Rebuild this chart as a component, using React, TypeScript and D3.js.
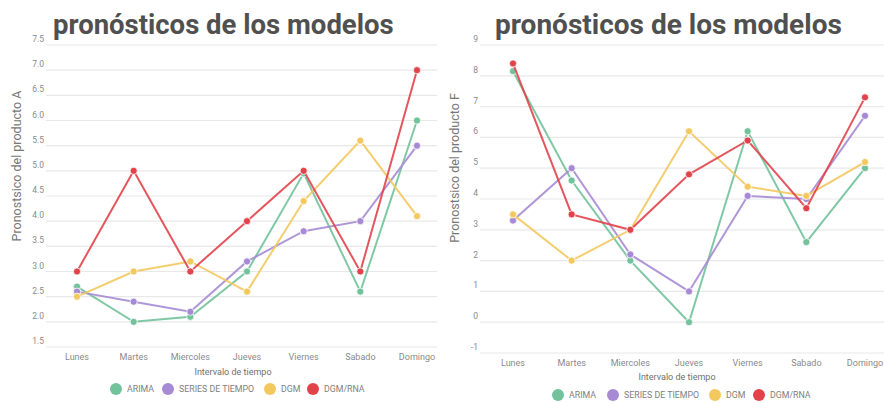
import React from "react";
import * as d3 from "d3";

const days = ["Lunes", "Martes", "Miercoles", "Jueves", "Viernes", "Sabado", "Domingo"];
const seriesNames = ["ARIMA", "SERIES DE TIEMPO", "DGM", "DGM/RNA"];
const colors = ["#72c29b", "#a68bd4", "#f3c85e", "#e2434b"];

// Producto A
const arimaA = [2.7, 2.0, 2.1, 3.0, 4.95, 2.6, 6.0];
const seriesA = [2.6, 2.4, 2.2, 3.2, 3.8, 4.0, 5.5];
const dgmA = [2.5, 3.0, 3.2, 2.6, 4.4, 5.6, 4.1];
const rnaA = [3.0, 5.0, 3.0, 4.0, 5.0, 3.0, 7.0];
const ticksA = [1.5, 2.0, 2.5, 3.0, 3.5, 4.0, 4.5, 5.0, 5.5, 6.0, 6.5, 7.0, 7.5];

// Producto F
const arimaF = [8.15, 4.6, 2.0, 0.0, 6.2, 2.6, 5.0];
const seriesF = [3.3, 5.0, 2.2, 1.0, 4.1, 4.0, 6.7];
const dgmF = [3.5, 2.0, 3.0, 6.2, 4.4, 4.1, 5.2];
const rnaF = [8.4, 3.5, 3.0, 4.8, 5.9, 3.7, 7.3];
const ticksF = [-1, 0, 1, 2, 3, 4, 5, 6, 7, 8, 9];

type ChartProps = {
  data: number[][];
  ticks: number[];
  fmt: (v: number) => string;
  yTitle: string;
  gridX: [number, number];
  pointX: [number, number];
  yRange: [number, number];
  tickX: number;
  titleX: number;
  titleSize: number;
  yTitleX: number;
  yTitleY: number;
  xLabelY: number;
  xTitleX: number;
  xTitleY: number;
  legendX: number[];
  legendY: number;
};

function Chart(p: ChartProps) {
  const x = d3.scalePoint<string>().domain(days).range(p.pointX);
  const y = d3
    .scaleLinear()
    .domain([p.ticks[0], p.ticks[p.ticks.length - 1]])
    .range(p.yRange);
  const line = d3
    .line<number>()
    .x((_, i) => x(days[i]) as number)
    .y((d) => y(d));
  const font = "Roboto, 'Noto Sans', sans-serif";
  return (
    <g>
      <text
        x={p.titleX}
        y={34}
        fontFamily={font}
        fontWeight={700}
        fontSize={p.titleSize}
        fill="#505050"
      >
        pronósticos de los modelos
      </text>
      {p.ticks.map((t) => (
        <g key={t}>
          <line
            x1={p.gridX[0]}
            x2={p.gridX[1]}
            y1={y(t)}
            y2={y(t)}
            stroke="#e8e8e8"
            strokeWidth={1.2}
          />
          <text
            x={p.tickX}
            y={y(t) - 3}
            textAnchor="end"
            fontFamily={font}
            fontSize={8.5}
            fill="#8a8a8a"
          >
            {p.fmt(t)}
          </text>
        </g>
      ))}
      <text
        transform={`translate(${p.yTitleX},${p.yTitleY}) rotate(-90)`}
        textAnchor="middle"
        fontFamily={font}
        fontSize={12.5}
        fill="#777"
      >
        {p.yTitle}
      </text>
      {days.map((d) => (
        <text
          key={d}
          x={x(d)}
          y={p.xLabelY}
          textAnchor="middle"
          fontFamily={font}
          fontSize={9}
          fill="#8a8a8a"
        >
          {d}
        </text>
      ))}
      <text
        x={p.xTitleX}
        y={p.xTitleY}
        textAnchor="middle"
        fontFamily={font}
        fontSize={9}
        fill="#707070"
      >
        Intervalo de tiempo
      </text>
      {p.data.map((s, si) => (
        <g key={si}>
          <path d={line(s) || ""} fill="none" stroke={colors[si]} strokeWidth={2} strokeOpacity={0.9} />
          {s.map((v, i) => (
            <circle
              key={i}
              cx={x(days[i])}
              cy={y(v)}
              r={3.6}
              fill={colors[si]}
              stroke="#fff"
              strokeWidth={0.8}
            />
          ))}
        </g>
      ))}
      {seriesNames.map((n, i) => (
        <g key={n}>
          <circle cx={p.legendX[i]} cy={p.legendY} r={6} fill={colors[i]} />
          <text
            x={p.legendX[i] + 11}
            y={p.legendY + 3}
            fontFamily={font}
            fontSize={8.8}
            fill="#808080"
          >
            {n}
          </text>
        </g>
      ))}
    </g>
  );
}

export default function App() {
  return (
    <svg
      width={884}
      height={403}
      style={{ position: "absolute", left: 0, top: 0, background: "#fff" }}
    >
      <rect width={884} height={403} fill="#fff" />
      <Chart
        data={[arimaA, seriesA, dgmA, rnaA]}
        ticks={ticksA}
        fmt={(v) => v.toFixed(1)}
        yTitle="Pronostsico del producto A"
        gridX={[46, 437]}
        pointX={[77, 417]}
        yRange={[347, 45]}
        tickX={44}
        titleX={53}
        titleSize={27.5}
        yTitleX={21}
        yTitleY={166}
        xLabelY={360}
        xTitleX={233}
        xTitleY={375}
        legendX={[116, 168, 270, 313]}
        legendY={389}
      />
      <Chart
        data={[arimaF, seriesF, dgmF, rnaF]}
        ticks={ticksF}
        fmt={(v) => String(v)}
        yTitle="Pronostsico del producto F"
        gridX={[480, 884]}
        pointX={[513, 865]}
        yRange={[353, 45]}
        tickX={478}
        titleX={495}
        titleSize={28}
        yTitleX={459}
        yTitleY={168}
        xLabelY={366}
        xTitleX={677}
        xTitleY={380}
        legendX={[558, 613, 715, 759]}
        legendY={395}
      />
    </svg>
  );
}
